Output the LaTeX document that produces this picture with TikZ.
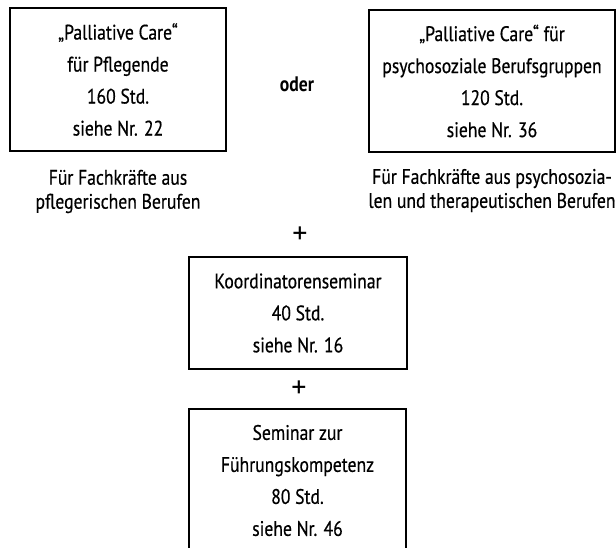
\documentclass[tikz,border=0pt]{standalone}
\usepackage{fontspec}
\setmainfont{PT Sans}[FakeStretch=0.84,UprightFeatures={FakeBold=0.5}]
\newfontfamily\plusschrift{PT Sans}
\begin{document}
\begin{tikzpicture}[x=1pt,y=-1pt,
  kurs/.style={draw=black,line width=1.4pt,rectangle,inner sep=0pt,align=center,
    font=\fontsize{21}{32}\selectfont},
  hinweis/.style={inner sep=0pt,align=center,font=\fontsize{21}{24}\selectfont},
  verbind/.style={inner sep=0pt,font=\fontsize{21}{22}\selectfont},
  plus/.style={inner sep=0pt,font=\plusschrift\fontsize{30}{30}\selectfont}]
\useasboundingbox (0,0) rectangle (616,548);
\clip (0,0) rectangle (616,548);
\node[kurs,minimum width=216,minimum height=143] (pc1) at (118,79.5)
  {„Palliative Care“\\für Pflegende\\160 Std.\\siehe Nr. 22};
\node[kurs,minimum width=246,minimum height=142] (pc2) at (492,81)
  {„Palliative Care“ für\\psychosoziale Berufsgruppen\\120 Std.\\siehe Nr. 36};
\node[verbind,font=\fontsize{21}{22}\selectfont\bfseries] (oder) at (297,84) {oder};
\node[hinweis] (z1) at (118,191.5) {Für Fachkräfte aus\\pflegerischen Berufen};
\node[hinweis] (z2) at (492,190.5) {Für Fachkräfte aus psychosozia-\\len und therapeutischen Berufen};
\node[plus] (plus1) at (300,235) {+};
\node[kurs,minimum width=218,minimum height=112] (koord) at (298,313)
  {Koordinatorenseminar\\40 Std.\\siehe Nr. 16};
\node[plus] (plus2) at (299,389) {+};
\node[kurs,minimum width=217,minimum height=143] (fuehr) at (297.5,480.5)
  {Seminar zur\\Führungskompetenz\\80 Std.\\siehe Nr. 46};
\end{tikzpicture}
\end{document}
